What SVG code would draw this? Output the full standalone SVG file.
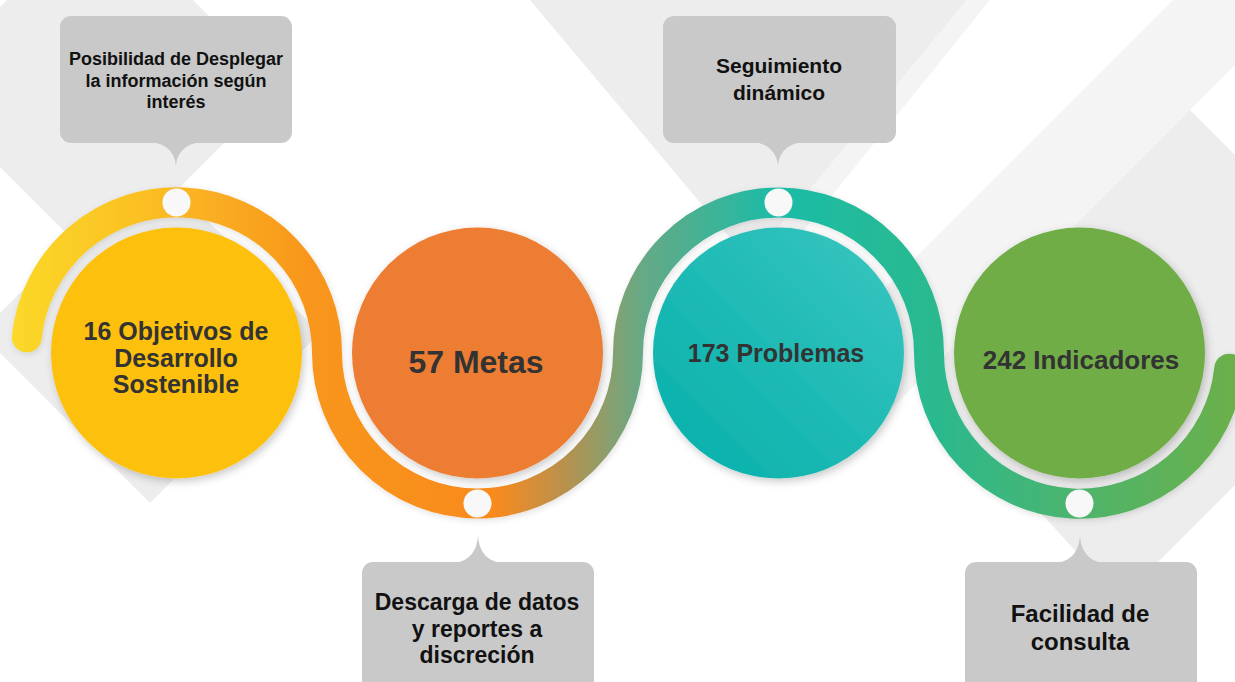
<svg xmlns="http://www.w3.org/2000/svg" width="1235" height="682" viewBox="0 0 1235 682">
  <style>
    .bgA { fill: #EDEDED; }
    .bgB { fill: #F4F4F4; }
    .callout { fill: #C9C9C9; }
    .ctext { font-family: "Liberation Sans", Arial, sans-serif; font-weight: bold; fill: #111111; text-anchor: middle; }
    .ntext { font-family: "Liberation Sans", Arial, sans-serif; font-weight: bold; fill: #333333; text-anchor: middle; }
    .dot { fill: #F8F8F8; }
  </style>
  <defs>
    <linearGradient id="ringGrad" gradientUnits="userSpaceOnUse" x1="0" y1="0" x2="1235" y2="0">
      <stop offset="0" stop-color="#FBDB2A"/>
      <stop offset="0.12" stop-color="#FBBE22"/>
      <stop offset="0.25" stop-color="#F8961E"/>
      <stop offset="0.40" stop-color="#F98A1E"/>
      <stop offset="0.46" stop-color="#B59250"/>
      <stop offset="0.52" stop-color="#66A986"/>
      <stop offset="0.63" stop-color="#1ABCA7"/>
      <stop offset="0.76" stop-color="#2BB98E"/>
      <stop offset="0.88" stop-color="#4FB46A"/>
      <stop offset="1" stop-color="#6BB04B"/>
    </linearGradient>
    <linearGradient id="tealGrad" x1="0" y1="1" x2="1" y2="0">
      <stop offset="0" stop-color="#05AFAA"/>
      <stop offset="1" stop-color="#3AC6C0"/>
    </linearGradient>
    <filter id="shadow" x="-20%" y="-20%" width="140%" height="140%">
      <feDropShadow dx="2" dy="3" stdDeviation="4" flood-color="#000000" flood-opacity="0.22"/>
    </filter>
    <filter id="softShadow" x="-20%" y="-20%" width="140%" height="140%">
      <feDropShadow dx="1" dy="2" stdDeviation="3" flood-color="#000000" flood-opacity="0.12"/>
    </filter>
  </defs>

  <!-- background -->
  <rect x="0" y="0" width="1235" height="682" fill="#FFFFFF"/>
  <g id="background">
    <polygon class="bgA" points="100,-93 280,87 100,267 -80,87"/>
    <polygon class="bgA" points="150,163 320,333 150,503 -20,333"/>
    <polygon class="bgA" points="530,0 967,0 750,262"/>
    <polygon class="bgB" points="967,0 990,0 762,282 750,262"/>
    <polygon class="bgB" points="1173,0 1300,0 870,430 743,430"/>
    <polygon class="bgA" points="1190,110 1400,320 1120,600 920,380"/>
  </g>

  <!-- connector: the S-shaped ribbon -->
  <g id="connectors">
    <path d="M 26.8 337.3 A 150.5 150.5 0 0 1 327 353 A 150.5 150.5 0 0 0 628 353 A 150.5 150.5 0 0 1 929 353 A 150.5 150.5 0 0 0 1229.2 368.7"
          fill="none" stroke="url(#ringGrad)" stroke-width="30" stroke-linecap="round" filter="url(#softShadow)"/>
    <circle class="dot" cx="176.5" cy="202.5" r="14"/>
    <circle class="dot" cx="477.5" cy="503.5" r="14"/>
    <circle class="dot" cx="778.5" cy="202.5" r="14"/>
    <circle class="dot" cx="1079.5" cy="503.5" r="14"/>
  </g>

  <!-- nodes -->
  <g id="node-ods">
    <circle cx="176.5" cy="353" r="125.5" fill="#FDC00F" filter="url(#shadow)"/>
    <text class="ntext" font-size="25" x="176" y="340">16 Objetivos de</text>
    <text class="ntext" font-size="25" x="176" y="367">Desarrollo</text>
    <text class="ntext" font-size="25" x="176" y="393">Sostenible</text>
  </g>
  <g id="node-metas">
    <circle cx="477.5" cy="353" r="125.5" fill="#ED7D31" filter="url(#shadow)"/>
    <text class="ntext" font-size="32" x="476" y="373">57 Metas</text>
  </g>
  <g id="node-problemas">
    <circle cx="778.5" cy="353" r="125.5" fill="url(#tealGrad)" filter="url(#shadow)"/>
    <text class="ntext" font-size="25" x="776" y="362">173 Problemas</text>
  </g>
  <g id="node-indicadores">
    <circle cx="1079.5" cy="353" r="125.5" fill="#70AD47" filter="url(#shadow)"/>
    <text class="ntext" font-size="26" x="1081" y="369">242 Indicadores</text>
  </g>

  <!-- callouts -->
  <g id="callout-desplegar">
    <rect class="callout" x="60" y="16" width="232" height="127" rx="11"/>
    <path class="callout" d="M 150 142 C 165 143 176 152 176 168 C 176 152 187 143 202 142 Z"/>
    <text class="ctext" font-size="18" x="176" y="65">Posibilidad de Desplegar</text>
    <text class="ctext" font-size="18" x="176" y="87">la información según</text>
    <text class="ctext" font-size="18" x="176" y="108">interés</text>
  </g>
  <g id="callout-seguimiento">
    <rect class="callout" x="663" y="16" width="233" height="127" rx="11"/>
    <path class="callout" d="M 752 142 C 767 143 778 152 778 168 C 778 152 789 143 804 142 Z"/>
    <text class="ctext" font-size="21" x="779" y="73">Seguimiento</text>
    <text class="ctext" font-size="21" x="779" y="100">dinámico</text>
  </g>
  <g id="callout-descarga">
    <rect class="callout" x="362" y="562" width="232" height="135" rx="11"/>
    <path class="callout" d="M 453 563 C 468 562 478 552 478 533 C 478 552 488 562 503 563 Z"/>
    <text class="ctext" font-size="23" x="477" y="610">Descarga de datos</text>
    <text class="ctext" font-size="23" x="477" y="637">y reportes a</text>
    <text class="ctext" font-size="23" x="477" y="663">discreción</text>
  </g>
  <g id="callout-consulta">
    <rect class="callout" x="965" y="562" width="232" height="135" rx="11"/>
    <path class="callout" d="M 1055 563 C 1070 562 1080 552 1080 533 C 1080 552 1090 562 1105 563 Z"/>
    <text class="ctext" font-size="24" x="1080" y="622">Facilidad de</text>
    <text class="ctext" font-size="24" x="1080" y="650">consulta</text>
  </g>
</svg>
